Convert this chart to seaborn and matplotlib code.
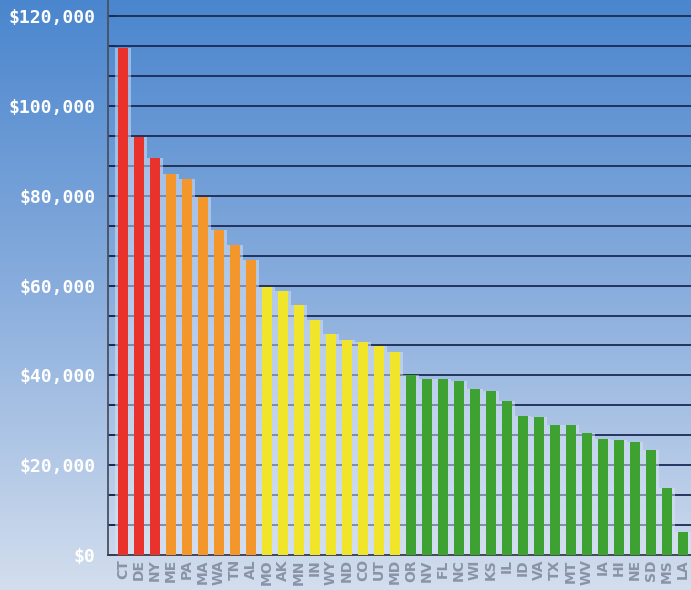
import numpy as np
import pandas as pd
import matplotlib.pyplot as plt
import seaborn as sns
from matplotlib.colors import LinearSegmentedColormap
from matplotlib.ticker import FuncFormatter

# Data
states = ['CT', 'DE', 'NY', 'ME', 'PA', 'MA', 'WA', 'TN', 'AL',
          'MO', 'AK', 'MN', 'IN', 'WY', 'ND', 'CO', 'UT', 'MD',
          'OR', 'NV', 'FL', 'NC', 'WI', 'KS', 'IL', 'ID', 'VA',
          'TX', 'MT', 'WV', 'IA', 'HI', 'NE', 'SD', 'MS', 'LA']
values = [113000, 93100, 88400, 84900, 83700, 79700, 72400, 69000, 65700,
          59700, 58800, 55700, 52300, 49200, 47900, 47400, 46500, 45200,
          40100, 39200, 39200, 38800, 37000, 36500, 34300, 31000, 30700,
          29000, 29000, 27200, 25800, 25600, 25200, 23400, 14900, 5100]
tiers = ['red'] * 3 + ['orange'] * 6 + ['yellow'] * 9 + ['green'] * 18
tier_colors = {'red': '#e8322b', 'orange': '#f3972c', 'yellow': '#f1e52c', 'green': '#3ea233'}

df = pd.DataFrame({'state': states, 'value': values, 'tier': tiers})

sns.set_style('white')

fig = plt.figure(figsize=(6.91, 5.90), dpi=100)

# blue gradient background
bg = fig.add_axes([0, 0, 1, 1], zorder=0)
grad = np.linspace(0, 1, 256).reshape(-1, 1)
cmap = LinearSegmentedColormap.from_list('bg', ['#4a86ce', '#8aaedd', '#d3deee'])
bg.imshow(grad, aspect='auto', cmap=cmap, extent=[0, 1, 0, 1], origin='upper')
bg.axis('off')

ax = fig.add_axes([0.156, 0.0593, 0.844, 0.9407], zorder=1)
ax.patch.set_alpha(0)

# light columns behind the bars (hide the grid between bars)
sns.barplot(data=df, x='state', y='value', color='#dbe5f4', alpha=0.5,
            width=1.0, saturation=1, errorbar=None, linewidth=0, ax=ax, zorder=2)
sns.barplot(data=df, x='state', y='value', hue='tier', palette=tier_colors,
            width=0.62, saturation=1, dodge=False, legend=False,
            errorbar=None, linewidth=0, ax=ax, zorder=3)

ax.set_xlim(-0.94, 35.5)
ax.set_ylim(0, 123600)
ax.set_yticks(np.arange(0, 120001, 20000))
ax.set_yticks(np.arange(0, 120001, 20000 / 3), minor=True)
ax.yaxis.set_major_formatter(FuncFormatter(lambda v, p: '${:,.0f}'.format(v)))
ax.set_axisbelow(True)
ax.yaxis.grid(True, which='both', color='#1b2a55', linewidth=1.3)
ax.tick_params(axis='y', which='both', direction='in', length=6, width=1.3,
               color='#1b2a55', pad=9, left=True)
ax.tick_params(axis='x', length=0, pad=3)

for lab in ax.get_yticklabels():
    lab.set_fontfamily('DejaVu Sans Mono')
    lab.set_fontweight('bold')
    lab.set_fontsize(13)
    lab.set_color('white')
for lab in ax.get_xticklabels():
    lab.set_rotation(90)
    lab.set_fontsize(10)
    lab.set_fontweight('bold')
    lab.set_color('#8a93a7')

ax.set_xlabel('')
ax.set_ylabel('')
sns.despine(ax=ax, top=True, right=True)
ax.spines['left'].set_color('#4a5060')
ax.spines['left'].set_linewidth(1.3)
ax.spines['bottom'].set_color('#3a3f4a')
ax.spines['bottom'].set_linewidth(1.3)

fig.savefig('out.png', dpi=100)
